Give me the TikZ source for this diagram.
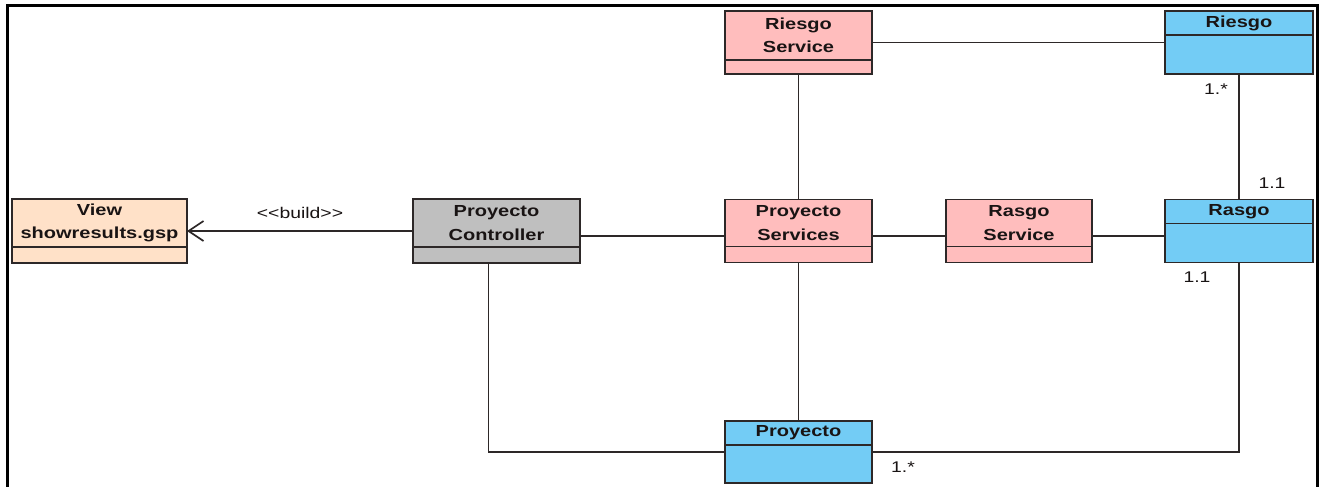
\documentclass[tikz,border=0pt]{standalone}
\usepackage{fontspec}
\setmainfont[FakeStretch=1.25]{Liberation Sans}
\usetikzlibrary{arrows.meta}
\definecolor{svcpink}{RGB}{255,189,189}
\definecolor{entblue}{RGB}{115,204,245}
\definecolor{viewpeach}{RGB}{255,225,200}
\definecolor{ctrlgray}{RGB}{191,191,191}
\definecolor{boxline}{RGB}{45,40,40}
\definecolor{headtext}{RGB}{25,20,20}

\tikzset{
  classbox/.style  = {draw=boxline, line width=1.6pt, outer sep=0pt, inner sep=0pt},
  classhead/.style = {anchor=north, inner sep=0pt, outer sep=0pt, align=center,
                      text=headtext, font=\bfseries\fontsize{16}{23.5}\selectfont},
  assoc/.style     = {draw=boxline, line width=1.7pt},
  mult/.style      = {inner sep=0pt, text=headtext, font=\fontsize{15.5}{18}\selectfont}
}

\begin{document}
\begin{tikzpicture}[x=1pt, y=-1pt]
\useasboundingbox (0,0) rectangle (1323,487);
\draw [line width=3pt] (7,490) -- (7,6) -- (1317,6) -- (1317,490);

% class boxes: name/x/y/width/height/header/fill/title
\foreach \nm/\cx/\cy/\w/\h/\hd/\col/\txt in {
    view/99.5/231/175/64/48/viewpeach/{View\\showresults.gsp},
    ctrl/496.5/231/167/64/48/ctrlgray/{Proyecto\\Controller},
    rsvc/798.5/42.5/147/63/49/svcpink/{Riesgo\\Service},
    psvc/798.5/231/147/63/47/svcpink/{Proyecto\\Services},
    gsvc/1019/231/146/63/47/svcpink/{Rasgo\\Service},
    riesgo/1239/42.5/148/63/24/entblue/{Riesgo},
    rasgo/1239/231/148/63/24/entblue/{Rasgo},
    proy/798.5/452/147/62/24/entblue/{Proyecto}} {
    \node (\nm) [classbox, fill=\col, minimum width=\w pt, minimum height=\h pt] at (\cx,\cy) {};
    \node (\nm-h) [classhead, minimum width=\w pt, minimum height=\hd pt] at (\nm.north) {\txt};
    \draw [assoc] (\nm-h.south west) -- (\nm-h.south east);
}

\draw [assoc, -{Straight Barb[length=15pt, width=20pt]}] (ctrl.west) -- (view.east)
    node (build) [mult, midway, yshift=18pt] {<\kern0pt<build>\kern0pt>};
\draw [assoc] ([yshift=-5pt]ctrl.east) -- ([yshift=-5pt]psvc.west);
\draw [assoc] ([yshift=-5pt]psvc.east) -- ([yshift=-5pt]gsvc.west);
\draw [assoc] ([yshift=-5pt]gsvc.east) -- ([yshift=-5pt]rasgo.west);
\draw [assoc] (rsvc.east) -- (riesgo.west);
\draw [assoc] (rsvc.south) -- (psvc.north);
\draw [assoc] (psvc.south) -- (proy.north);
\draw [assoc] (riesgo.south) -- (rasgo.north);
\draw [assoc] ([xshift=-8pt]ctrl.south) |- (proy.west);
\draw [assoc] (proy.east) -| (rasgo.south);

% multiplicities
\node (m-riesgo) [mult] at ([xshift=-23pt, yshift=-15pt]riesgo.south) {1.*};
\node (m-rasgo-n) [mult] at ([xshift=33pt, yshift=16pt]rasgo.north) {1.1};
\node (m-rasgo-s) [mult] at ([xshift=-42pt, yshift=-15pt]rasgo.south) {1.1};
\node (m-proy) [mult] at ([xshift=31pt, yshift=-15pt]proy.east) {1.*};
\end{tikzpicture}
\end{document}
